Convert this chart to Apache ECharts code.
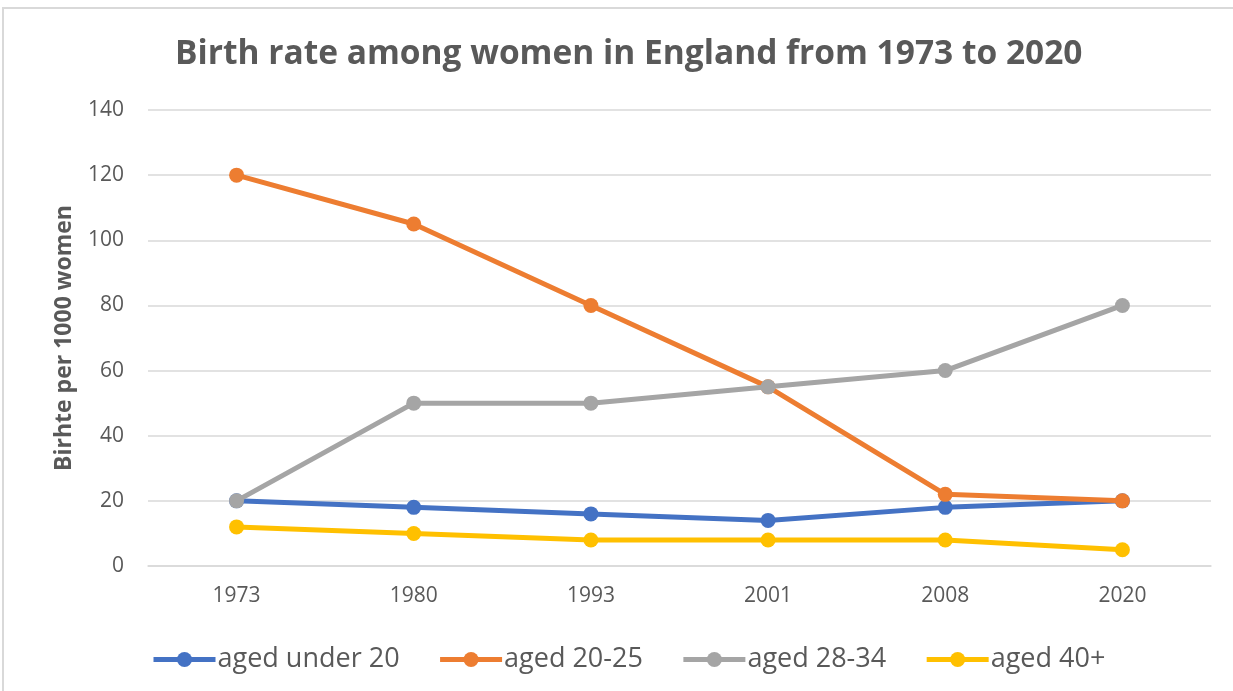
<!DOCTYPE html>
<html>
<head>
<meta charset="utf-8">
<script src="https://cdn.jsdelivr.net/npm/echarts@6/dist/echarts.min.js"></script>
<style>
  html, body { margin: 0; padding: 0; background: #fff; }
  #chart { width: 1233px; height: 691px; }
</style>
</head>
<body>
<div id="chart"></div>
<script>
// data
var years = ['1973', '1980', '1993', '2001', '2008', '2020'];
var under20 = [20, 18, 16, 14, 18, 20];
var aged20to25 = [120, 105, 80, 55, 22, 20];
var aged28to34 = [20, 50, 50, 55, 60, 80];
var aged40plus = [12, 10, 8, 8, 8, 5];
var seriesNames = ['aged under 20', 'aged 20-25', 'aged 28-34', 'aged 40+'];
var colors = ['#4472C4', '#ED7D31', '#A5A5A5', '#FFC000'];

var font = '"Open Sans", "Liberation Sans", sans-serif';
var textColor = '#595959';

var chart = echarts.init(document.getElementById('chart'));

function makeLine(name, data, i) {
  return {
    name: name,
    type: 'line',
    data: data,
    symbol: 'circle',
    symbolSize: 15,
    lineStyle: { width: 5, color: colors[i] },
    itemStyle: { color: colors[i] },
    z: 2 + i
  };
}

chart.setOption({
  animation: false,
  color: colors,
  title: {
    text: 'Birth rate among women in England from 1973 to 2020',
    left: 170,
    top: 32,
    textStyle: { fontFamily: font, fontSize: 33.5, fontWeight: 'bold', color: textColor }
  },
  graphic: [{
    type: 'rect',
    shape: { x: 3, y: 8, width: 1240, height: 700 },
    style: { fill: 'none', stroke: '#d9d9d9', lineWidth: 2 },
    silent: true
  }],
  legend: {
    data: seriesNames,
    bottom: 13,
    left: 146,
    itemWidth: 62,
    itemHeight: 19,
    itemGap: 38,
    lineStyle: { width: 5 },
    textStyle: { fontFamily: font, fontSize: 27, color: textColor, padding: [0, 0, 0, -3] }
  },
  grid: { left: 148, right: 22, top: 110, bottom: 125 },
  xAxis: {
    type: 'category',
    data: years,
    boundaryGap: true,
    axisLine: { show: true, lineStyle: { color: '#d9d9d9', width: 1.5 } },
    axisTick: { show: false },
    axisLabel: { fontFamily: font, fontSize: 21, color: textColor, margin: 20 }
  },
  yAxis: {
    type: 'value',
    min: 0,
    max: 140,
    interval: 20,
    name: 'Birhte per 1000 women',
    nameLocation: 'middle',
    nameGap: 72,
    nameTextStyle: { fontFamily: font, fontSize: 23, fontWeight: 'bold', color: textColor },
    axisLine: { show: false },
    axisTick: { show: false },
    axisLabel: { fontFamily: font, fontSize: 21, color: textColor, margin: 24 },
    splitLine: { lineStyle: { color: '#d9d9d9', width: 1.5 } }
  },
  series: [
    makeLine(seriesNames[0], under20, 0),
    makeLine(seriesNames[1], aged20to25, 1),
    makeLine(seriesNames[2], aged28to34, 2),
    makeLine(seriesNames[3], aged40plus, 3)
  ]
});
</script>
</body>
</html>
